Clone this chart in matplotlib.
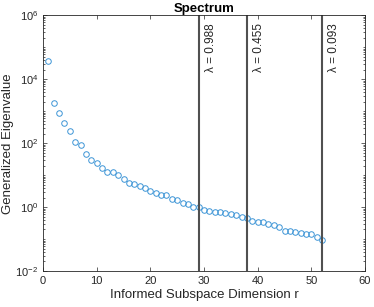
import numpy as np
import matplotlib
matplotlib.use("Agg")
import matplotlib.pyplot as plt
from matplotlib.ticker import LogLocator, FixedLocator, NullFormatter

# Data (log10 of generalized eigenvalue for r = 1..52)
r = list(range(1, 53))
log_vals = [4.57, 3.25, 2.93, 2.62, 2.37, 2.03, 1.95, 1.67, 1.46, 1.37,
            1.24, 1.11, 1.09, 1.01, 0.87, 0.77, 0.73, 0.66, 0.59, 0.51,
            0.45, 0.38, 0.37, 0.26, 0.21, 0.14, 0.10, 0.01, -0.005, -0.08,
            -0.12, -0.15, -0.16, -0.19, -0.22, -0.23, -0.30, -0.342, -0.43, -0.45,
            -0.47, -0.54, -0.57, -0.62, -0.74, -0.74, -0.78, -0.80, -0.83, -0.84,
            -0.94, -1.03]
vals = [10 ** v for v in log_vals]
cut_r = [29, 38, 52]
cut_labels = ["\u03bb = 0.988", "\u03bb = 0.455", "\u03bb = 0.093"]
xticks = [0, 10, 20, 30, 40, 50, 60]

plt.rcParams['font.family'] = ['Liberation Sans', 'DejaVu Sans']
dark = '#262626'

fig = plt.figure(figsize=(3.74, 3.07), dpi=100)
ax = fig.add_axes([0.115, 0.117, 0.861, 0.833])

ax.plot(r, vals, linestyle='none', marker='o', markersize=4,
        markerfacecolor='none', markeredgecolor='#3d95d6', markeredgewidth=0.7)

for xr, lab in zip(cut_r, cut_labels):
    ax.axvline(xr, color='#505050', linewidth=1.5)
    ax.text(xr + 1.1, 0.97, lab, rotation=90, ha='left', va='top',
            transform=ax.get_xaxis_transform(), fontsize=8.5, color=dark)

ax.set_yscale('log')
ax.set_xlim(0, 60)
ax.set_ylim(1e-2, 1e6)
ax.xaxis.set_major_locator(FixedLocator(xticks))
ax.yaxis.set_major_locator(FixedLocator([1e-2, 1e0, 1e2, 1e4, 1e6]))
ax.yaxis.set_minor_locator(LogLocator(base=10, subs=np.arange(1, 10), numticks=20))
ax.yaxis.set_minor_formatter(NullFormatter())

ax.tick_params(which='both', direction='in', top=True, right=True,
               colors=dark, labelsize=8, width=0.5)
ax.tick_params(which='major', length=3)
ax.tick_params(which='minor', length=1.5)
for s in ax.spines.values():
    s.set_color(dark)
    s.set_linewidth(0.6)

ax.set_xlabel("Informed Subspace Dimension r", fontsize=9.5, color=dark, labelpad=2)
ax.set_ylabel("Generalized Eigenvalue", fontsize=9.5, color=dark, labelpad=1)
ax.set_title("Spectrum", fontsize=9.5, fontweight='bold', color='black', pad=2)

fig.savefig("out.png", dpi=100)
